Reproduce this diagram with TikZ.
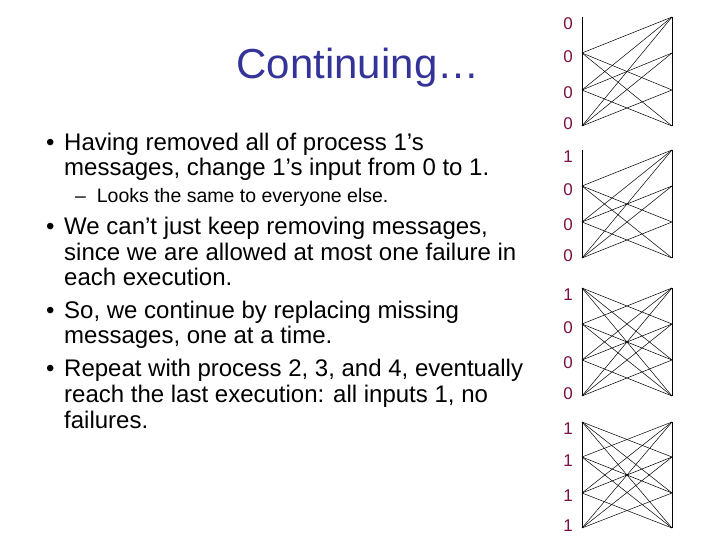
\documentclass[tikz,border=0pt]{standalone}
\usepackage{fontspec}
\setmainfont{Liberation Sans}
\definecolor{lab}{HTML}{7A1040}
\definecolor{ttl}{HTML}{333399}
\begin{document}
\begin{tikzpicture}[x=1pt,y=-1pt,
  txt/.style={anchor=base west,inner sep=0,font=\fontsize{24}{27}\selectfont},
  sub/.style={anchor=base west,inner sep=0,font=\fontsize{19.5}{22}\selectfont},
  lbl/.style={text=lab,font=\fontsize{17}{20}\selectfont,inner sep=0},
  edge/.style={line width=0.5pt}]
\useasboundingbox (0,0) rectangle (720,540);
\node[text=ttl,font=\fontsize{42}{46}\selectfont,inner sep=0] (title) at (358,68) {Continuing…};
\node[txt] (b1) at (46,151) {•};
\node[txt] (l1) at (64,151) {Having removed all of process 1’s};
\node[txt] (l2) at (64,176) {messages, change 1’s input from 0 to 1.};
\node[sub] (s1) at (75,203) {–\ \ Looks the same to everyone else.};
\node[txt] (b2) at (46,235) {•};
\node[txt] (l3) at (64,235) {We can’t just keep removing messages,};
\node[txt] (l4) at (64,260) {since we are allowed at most one failure in};
\node[txt] (l5) at (64,285) {each execution.};
\node[txt] (b3) at (46,318) {•};
\node[txt] (l6) at (64,318) {So, we continue by replacing missing};
\node[txt] (l7) at (64,343) {messages, one at a time.};
\node[txt] (b4) at (46,376) {•};
\node[txt] (l8) at (64,376) {Repeat with process 2, 3, and 4, eventually};
\node[txt] (l9) at (64,402) {reach the last execution:  all inputs 1, no};
\node[txt] (l10) at (64,428) {failures.};
% blocks
\foreach \b/\ya/\yb/\yc/\yd/\full/\la/\lb/\lc/\ld in
  {1/17/53/90/126/0/0/0/0/0, 2/150/186/222/258/0/1/0/0/0,
   3/288/324/360/396/1/1/0/0/0, 4/422/457/493/528/1/1/1/1/1}{
  \coordinate (L\b-1) at (582,\ya); \coordinate (L\b-2) at (582,\yb);
  \coordinate (L\b-3) at (582,\yc); \coordinate (L\b-4) at (582,\yd);
  \coordinate (R\b-1) at (672,\ya); \coordinate (R\b-2) at (672,\yb);
  \coordinate (R\b-3) at (672,\yc); \coordinate (R\b-4) at (672,\yd);
  \draw[edge] (L\b-1) -- (L\b-4);
  \draw[edge] (R\b-1) -- (R\b-4);
  \node[lbl] (n\b-1) at (568,\ya+7) {\la};
  \node[lbl] (n\b-2) at (568,\yb+4) {\lb};
  \node[lbl] (n\b-3) at (568,\yc+3) {\lc};
  \node[lbl] (n\b-4) at (568,\yd-2) {\ld};
  \foreach \i in {2,3,4}{\foreach \j in {1,2,3,4}{
    \ifnum\i=\j\else\draw[edge] (L\b-\i) -- (R\b-\j);\fi}}
  \ifnum\full=1
    \foreach \j in {2,3,4}{\draw[edge] (L\b-1) -- (R\b-\j);}
  \fi
}
\end{tikzpicture}
\end{document}
